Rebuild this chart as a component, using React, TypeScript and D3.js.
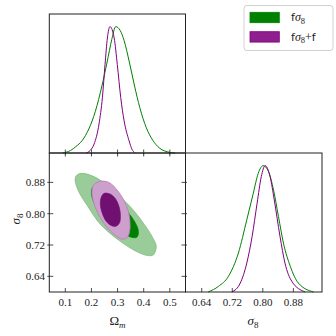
import * as d3 from "d3";

// 1D marginal of Omega_m (normalised to peak 1)
const omGreenX = [0.09, 0.12, 0.14, 0.165, 0.19, 0.215, 0.24, 0.26, 0.278, 0.293, 0.31, 0.325, 0.345, 0.365, 0.385, 0.41, 0.435, 0.46, 0.5, 0.52];
const omGreenY = [0, 0.02, 0.05, 0.1, 0.19, 0.33, 0.53, 0.72, 0.9, 1.0, 0.97, 0.89, 0.72, 0.53, 0.36, 0.2, 0.1, 0.04, 0.005, 0];
const omPurpleX = [0.18, 0.195, 0.21, 0.229, 0.242, 0.252, 0.261, 0.271, 0.287, 0.299, 0.312, 0.325, 0.344, 0.355, 0.367];
const omPurpleY = [0, 0.02, 0.07, 0.23, 0.44, 0.7, 0.91, 1.0, 0.91, 0.7, 0.44, 0.255, 0.097, 0.03, 0];

// 1D marginal of sigma_8
const s8GreenX = [0.657, 0.684, 0.71, 0.736, 0.758, 0.775, 0.788, 0.801, 0.815, 0.828, 0.841, 0.854, 0.872, 0.893, 0.933];
const s8GreenY = [0, 0.045, 0.124, 0.308, 0.571, 0.781, 0.939, 1.0, 0.953, 0.808, 0.597, 0.387, 0.203, 0.071, 0];
const s8PurpleX = [0.719, 0.741, 0.758, 0.772, 0.785, 0.796, 0.806, 0.819, 0.83, 0.845, 0.858, 0.876, 0.911];
const s8PurpleY = [0, 0.071, 0.229, 0.44, 0.702, 0.913, 1.0, 0.913, 0.728, 0.44, 0.229, 0.084, 0];

// 2D contours (Omega_m, sigma_8)
const greenOuterOm = [0.141, 0.16, 0.205, 0.256, 0.307, 0.358, 0.403, 0.435, 0.448, 0.437, 0.416, 0.371, 0.32, 0.269, 0.224, 0.186, 0.154, 0.138];
const greenOuterS8 = [0.896, 0.903, 0.896, 0.875, 0.845, 0.811, 0.772, 0.738, 0.717, 0.695, 0.693, 0.704, 0.725, 0.751, 0.781, 0.819, 0.853, 0.883];
const greenInnerOm = [0.207, 0.243, 0.294, 0.339, 0.367, 0.38, 0.374, 0.352, 0.32, 0.269, 0.23, 0.205, 0.2];
const greenInnerS8 = [0.869, 0.862, 0.836, 0.804, 0.778, 0.755, 0.74, 0.74, 0.751, 0.776, 0.806, 0.836, 0.858];
const purpleOuterOm = [0.237, 0.269, 0.301, 0.326, 0.343, 0.348, 0.345, 0.335, 0.317, 0.292, 0.256, 0.224, 0.207, 0.202, 0.21];
const purpleOuterS8 = [0.883, 0.879, 0.858, 0.832, 0.802, 0.772, 0.751, 0.738, 0.735, 0.744, 0.768, 0.802, 0.832, 0.858, 0.875];
const purpleInnerOm = [0.249, 0.275, 0.294, 0.307, 0.311, 0.307, 0.294, 0.275, 0.256, 0.241, 0.234, 0.238];
const purpleInnerS8 = [0.852, 0.849, 0.836, 0.815, 0.793, 0.776, 0.768, 0.77, 0.781, 0.802, 0.823, 0.843];

const omTicks = [0.1, 0.2, 0.3, 0.4, 0.5];
const s8Ticks = [0.64, 0.72, 0.8, 0.88];
const legendLabels = ["fσ8", "fσ8+f"];

const GREEN = "#008000";
const PURPLE = "#800080";

const zip = (a: number[], b: number[]) => a.map((v, i) => [v, b[i]] as [number, number]);

export default function App() {
  const L = 49.3, M = 185.5, R = 322;
  const T = 14, MY = 153, B = 292;

  const xOm = d3.scaleLinear().domain([0.0387, 0.56]).range([L, M]);
  const xS8 = d3.scaleLinear().domain([0.5975, 0.955]).range([M, R]);
  const yS8 = d3.scaleLinear().domain([0.6, 0.955]).range([B, MY]);
  const yTop = d3.scaleLinear().domain([0, 1.1]).range([MY, T]);
  const yBot = d3.scaleLinear().domain([0, 1.1]).range([B, MY]);

  const lineTop = d3.line<[number, number]>().x(d => xOm(d[0])).y(d => yTop(d[1])).curve(d3.curveMonotoneX);
  const lineBot = d3.line<[number, number]>().x(d => xS8(d[0])).y(d => yBot(d[1])).curve(d3.curveMonotoneX);
  const contour = d3.line<[number, number]>().x(d => xOm(d[0])).y(d => yS8(d[1])).curve(d3.curveCatmullRomClosed);

  const serif = "'Liberation Serif', 'DejaVu Serif', serif";
  const tick = { stroke: "#222", strokeWidth: 0.8 };

  return (
    <svg width={336} height={336} style={{ position: "absolute", left: 0, top: 0 }}>
      <rect width={336} height={336} fill="white" />

      {/* top-left: Omega_m marginal */}
      <path d={lineTop(zip(omGreenX, omGreenY)) || ""} fill="none" stroke={GREEN} strokeWidth={1} />
      <path d={lineTop(zip(omPurpleX, omPurpleY)) || ""} fill="none" stroke={PURPLE} strokeWidth={1} />
      {omTicks.map(t => (
        <line key={"tt" + t} x1={xOm(t)} x2={xOm(t)} y1={MY + 1.5} y2={MY - 3.5} {...tick} />
      ))}
      <rect x={L} y={T} width={M - L} height={MY - T} fill="none" stroke="#222" strokeWidth={1} />

      {/* bottom-left: 2D contours */}
      <path d={contour(zip(greenOuterOm, greenOuterS8)) || ""} fill="#99cc99" stroke="#7cbc7c" strokeWidth={0.8} />
      <path d={contour(zip(greenInnerOm, greenInnerS8)) || ""} fill={GREEN} stroke={GREEN} strokeWidth={0.6} />
      <path d={contour(zip(purpleOuterOm, purpleOuterS8)) || ""} fill="#cc9fcc" stroke="#b87ab8" strokeWidth={0.8} />
      <path d={contour(zip(purpleInnerOm, purpleInnerS8)) || ""} fill="#701070" stroke="#701070" strokeWidth={0.6} />
      {omTicks.map(t => (
        <g key={"bl" + t}>
          <line x1={xOm(t)} x2={xOm(t)} y1={B} y2={B - 4} {...tick} />
          <line x1={xOm(t)} x2={xOm(t)} y1={MY} y2={MY + 3.5} {...tick} />
          <text x={xOm(t)} y={306} textAnchor="middle" fontFamily={serif} fontSize={11} fill="#222">{t.toFixed(1)}</text>
        </g>
      ))}
      {s8Ticks.map(t => (
        <g key={"yl" + t}>
          <line x1={L - 2} x2={L + 4} y1={yS8(t)} y2={yS8(t)} {...tick} />
          <line x1={M + 1.5} x2={M - 4} y1={yS8(t)} y2={yS8(t)} {...tick} />
          <text x={45} y={yS8(t)} dy="0.35em" textAnchor="end" fontFamily={serif} fontSize={11} fill="#222">{t.toFixed(2)}</text>
        </g>
      ))}
      <rect x={L} y={MY} width={M - L} height={B - MY} fill="none" stroke="#222" strokeWidth={1} />

      {/* bottom-right: sigma_8 marginal */}
      <path d={lineBot(zip(s8GreenX, s8GreenY)) || ""} fill="none" stroke={GREEN} strokeWidth={1} />
      <path d={lineBot(zip(s8PurpleX, s8PurpleY)) || ""} fill="none" stroke={PURPLE} strokeWidth={1} />
      {s8Ticks.map(t => (
        <g key={"br" + t}>
          <line x1={xS8(t)} x2={xS8(t)} y1={B} y2={B - 4} {...tick} />
          <text x={xS8(t)} y={306} textAnchor="middle" fontFamily={serif} fontSize={11} fill="#222">{t.toFixed(2)}</text>
        </g>
      ))}
      <rect x={M} y={MY} width={R - M} height={B - MY} fill="none" stroke="#222" strokeWidth={1} />

      {/* axis titles */}
      <text x={117.5} y={325} textAnchor="middle" fontFamily={serif} fontSize={13} fill="#222">
        Ω<tspan fontStyle="italic" fontSize={9} dy={2.5}>m</tspan>
      </text>
      <text x={253} y={325} textAnchor="middle" fontFamily={serif} fontSize={13} fill="#222">
        <tspan fontStyle="italic">σ</tspan><tspan fontSize={9} dy={2.5}>8</tspan>
      </text>
      <text transform="translate(20,219) rotate(-90)" textAnchor="middle" fontFamily={serif} fontSize={13} fill="#222">
        <tspan fontStyle="italic">σ</tspan><tspan fontSize={9} dy={2.5}>8</tspan>
      </text>

      {/* legend */}
      <rect x={244} y={5.5} width={89} height={45} rx={3} fill="white" stroke="#d0d0d0" strokeWidth={1} />
      {legendLabels.map((lab, i) => {
        const y0 = 12.3 + i * 19.4;
        const extra = lab.slice(3);
        return (
          <g key={lab}>
            <rect x={250} y={y0} width={29.3} height={10.4} fill={i === 0 ? GREEN : "#8f1f8f"} stroke={i === 0 ? GREEN : PURPLE} strokeWidth={0.8} />
            <text x={291} y={y0 + 9} fontFamily="'DejaVu Sans', sans-serif" fontSize={11} fill="#222">
              f<tspan fontFamily={serif} fontStyle="italic" fontSize={12}>σ</tspan>
              <tspan fontFamily={serif} fontSize={8.5} dy={2.5}>8</tspan>
              {extra && <tspan fontFamily={serif} fontSize={12} dy={-2.5}>+</tspan>}
              {extra && <tspan>{extra.slice(1)}</tspan>}
            </text>
          </g>
        );
      })}
    </svg>
  );
}
